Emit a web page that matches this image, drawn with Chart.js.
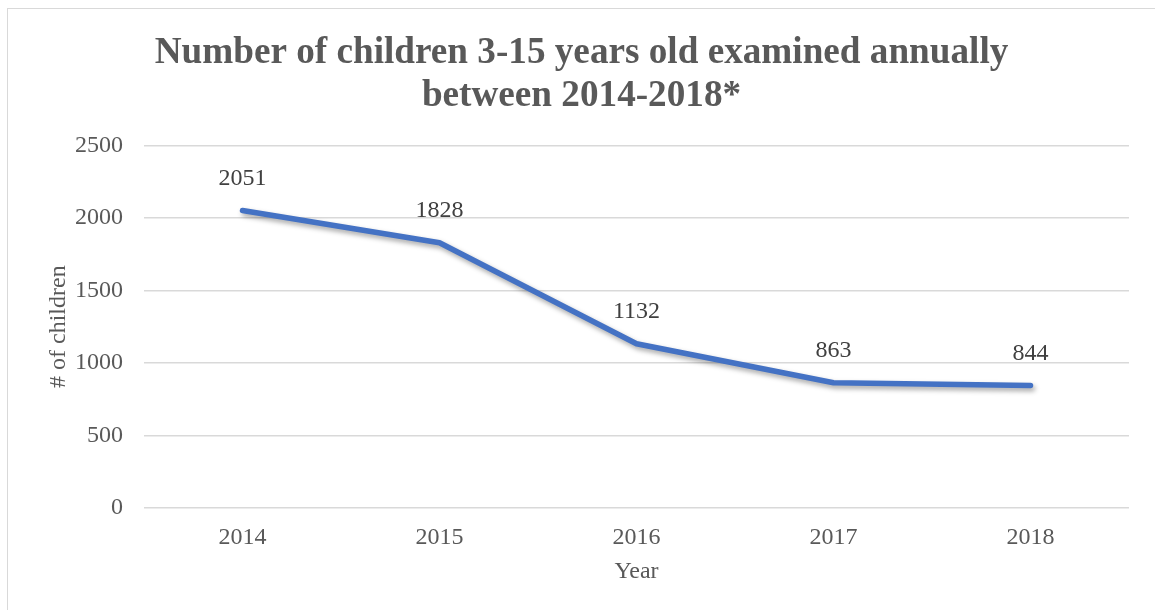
<!DOCTYPE html>
<html><head><meta charset="utf-8">
<script src="https://cdn.jsdelivr.net/npm/chart.js@4"></script>
<style>
html,body{margin:0;padding:0;background:#fff;overflow:hidden;}
#wrap{position:absolute;left:0;top:0;width:1155px;height:610px;}
#frame{position:absolute;left:7px;top:8px;width:1200px;height:700px;border:1.5px solid #d9d9d9;box-sizing:border-box;}
canvas{position:absolute;left:0;top:0;}
</style></head>
<body><div id="wrap"><div id="frame"></div><canvas id="c" width="1155" height="610"></canvas></div>
<script>
const titleLines = ["Number of children 3-15 years old examined annually", "between 2014-2018*"];
const years = ["2014", "2015", "2016", "2017", "2018"];
const children = [2051, 1828, 1132, 863, 844];
const yTicks = [0, 500, 1000, 1500, 2000, 2500];
const xAxisTitle = "Year";
const yAxisTitle = "# of children";

const SERIF = "'Liberation Serif','Times New Roman',serif";

const shadowPlugin = {
  id: 'lineShadow',
  beforeDatasetDraw(chart) {
    const ctx = chart.ctx;
    ctx.save();
    ctx.shadowColor = 'rgba(0,0,0,0.35)';
    ctx.shadowBlur = 5;
    ctx.shadowOffsetX = 2;
    ctx.shadowOffsetY = 3;
  },
  afterDatasetDraw(chart) { chart.ctx.restore(); }
};

const labelPlugin = {
  id: 'valueLabels',
  afterDatasetsDraw(chart) {
    const ctx = chart.ctx;
    const meta = chart.getDatasetMeta(0);
    ctx.save();
    ctx.font = "24px " + SERIF;
    ctx.fillStyle = '#404040';
    ctx.textAlign = 'center';
    ctx.textBaseline = 'middle';
    meta.data.forEach((pt, i) => {
      ctx.fillText(String(children[i]), pt.x, pt.y - 32);
    });
    ctx.restore();
  }
};

new Chart(document.getElementById('c'), {
  type: 'line',
  data: {
    labels: years,
    datasets: [{
      data: children,
      borderColor: '#4472C4',
      backgroundColor: '#4472C4',
      borderWidth: 5.5,
      borderCapStyle: 'round',
      borderJoinStyle: 'round',
      pointRadius: 0,
      tension: 0,
      fill: false
    }]
  },
  options: {
    responsive: false,
    animation: false,
    layout: { padding: { left: 8, right: 0, top: 0, bottom: 0 } },
    plugins: {
      legend: { display: false },
      tooltip: { enabled: false },
      title: {
        display: true,
        text: titleLines,
        color: '#595959',
        font: { family: SERIF, size: 37.2, weight: 'bold', lineHeight: 1.16 },
        padding: { top: 32, bottom: 27 }
      }
    },
    scales: {
      x: {
        offset: true,
        grid: { display: false, drawTicks: false },
        border: { display: false },
        ticks: { color: '#595959', font: { family: SERIF, size: 24 }, padding: 15 },
        title: { display: true, text: xAxisTitle, color: '#595959', font: { family: SERIF, size: 24 }, padding: { top: 0, bottom: 24 } },
        afterFit(s) { s.height = 102; }
      },
      y: {
        min: 0, max: 2500,
        afterBuildTicks(s) { s.ticks = yTicks.map(v => ({ value: v })); },
        grid: { color: '#d9d9d9', lineWidth: 1.5, drawTicks: false },
        border: { display: false },
        ticks: { color: '#595959', font: { family: SERIF, size: 24 }, padding: 21, callback: v => String(v) },
        title: { display: true, text: yAxisTitle, color: '#595959', font: { family: SERIF, size: 24 }, padding: { top: 36, bottom: 0 } },
        afterFit(s) { s.width = 136; }
      },
      spacer: {
        type: 'linear',
        position: 'right',
        display: true,
        grid: { display: false, drawTicks: false },
        border: { display: false },
        ticks: { display: false },
        afterFit(s) { s.width = 26; }
      }
    }
  },
  plugins: [shadowPlugin, labelPlugin]
});
</script></body></html>
